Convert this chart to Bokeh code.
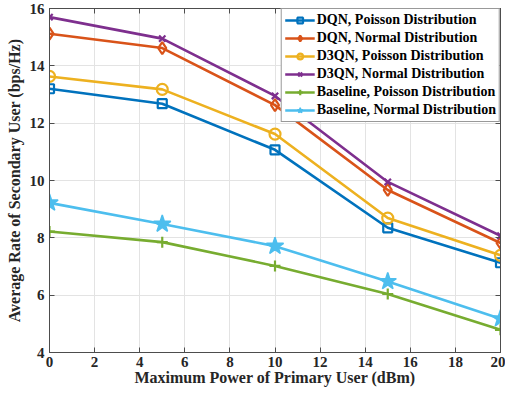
from bokeh.plotting import figure
from bokeh.models import LinearAxis, Range1d, Legend, FixedTicker
from bokeh.embed import file_html
from bokeh.resources import INLINE

x = [0, 5, 10, 15, 20]
dqn_poisson = [13.2, 12.68, 11.07, 8.35, 7.13]
dqn_normal = [15.12, 14.62, 12.63, 9.67, 7.82]
d3qn_poisson = [13.63, 13.18, 11.62, 8.69, 7.39]
d3qn_normal = [15.7, 14.95, 12.95, 9.95, 8.07]
base_poisson = [8.22, 7.85, 7.02, 6.04, 4.79]
base_normal = [9.22, 8.48, 7.71, 6.48, 5.18]

labels = ["DQN, Poisson Distribution", "DQN, Normal Distribution",
          "D3QN, Poisson Distribution", "D3QN, Normal Distribution",
          "Baseline, Poisson Distribution", "Baseline, Normal Distribution"]
colors = ["#0072BD", "#D95319", "#EDB120", "#7E2F8E", "#77AC30", "#4DBEEE"]
markers = ["square", "diamond", "circle", "x", "cross", "star"]
msizes = [9, 12, 11, 9, 11, 18]
series = [dqn_poisson, dqn_normal, d3qn_poisson, d3qn_normal, base_poisson, base_normal]
xticks = [0, 2, 4, 6, 8, 10, 12, 14, 16, 18, 20]
yticks = [4, 6, 8, 10, 12, 14, 16]

FONT = "'Liberation Serif'"
p = figure(width=505, height=388, output_backend="svg", toolbar_location=None,
           x_range=Range1d(0, 20), y_range=Range1d(4, 16),
           min_border_left=49, min_border_right=5, min_border_top=8, min_border_bottom=30)

items = []
for lab, c, m, s, ys in zip(labels, colors, markers, msizes, series):
    r1 = p.line(x, ys, line_color=c, line_width=2.6)
    if m == "star":
        r2 = p.scatter(x, ys, marker=m, size=s, fill_color=c, line_color=c, line_width=1.5)
    else:
        r2 = p.scatter(x, ys, marker=m, size=s, fill_color="white", fill_alpha=0.0,
                       line_color=c, line_width=2.2)
    items.append((lab, [r1, r2]))

legend = Legend(items=items, location="top_right")
legend.label_text_font = FONT
legend.label_text_font_style = "bold"
legend.label_text_font_size = "14px"
legend.label_text_color = "black"
legend.label_height = 14
legend.glyph_height = 14
legend.glyph_width = 30
legend.spacing = 2
legend.padding = 3
legend.margin = 0
legend.border_line_color = "#333333"
legend.border_line_width = 1
legend.background_fill_alpha = 1
legend.label_standoff = 2
p.add_layout(legend)

p.xaxis.axis_label = "Maximum Power of Primary User (dBm)"
p.yaxis.axis_label = "Average Rate of Secondary User (bps/Hz)"
p.xaxis.ticker = FixedTicker(ticks=xticks)
p.yaxis.ticker = FixedTicker(ticks=yticks)
for ax in [p.xaxis[0], p.yaxis[0]]:
    ax.axis_label_text_font = FONT
    ax.axis_label_text_font_style = "bold"
    ax.axis_label_text_font_size = "16px"
    ax.axis_label_text_color = "#262626"
    ax.major_label_text_font = FONT
    ax.major_label_text_font_style = "bold"
    ax.major_label_text_font_size = "15px"
    ax.major_label_text_color = "#262626"
    ax.axis_line_color = "#4d4d4d"
    ax.major_tick_line_color = "#4d4d4d"
    ax.major_tick_in = 5
    ax.major_tick_out = 0
    ax.minor_tick_line_color = None
p.xaxis.major_label_standoff = 4
p.xaxis.axis_label_standoff = -1
p.yaxis.major_label_standoff = 5
p.yaxis.axis_label_standoff = 4

for loc in ["above", "right"]:
    ax = LinearAxis()
    ax.ticker = FixedTicker(ticks=xticks if loc == "above" else yticks)
    ax.major_label_text_font_size = "1px"
    ax.major_label_text_color = None
    ax.major_label_standoff = 0
    ax.axis_line_color = "#4d4d4d"
    ax.major_tick_line_color = "#4d4d4d"
    ax.major_tick_in = 5
    ax.major_tick_out = 0
    ax.minor_tick_line_color = None
    p.add_layout(ax, loc)

p.xgrid.ticker = FixedTicker(ticks=xticks)
p.ygrid.ticker = FixedTicker(ticks=yticks)
p.grid.grid_line_color = "#e3e3e3"
p.grid.grid_line_width = 1
p.outline_line_color = "#4d4d4d"

open("out.html", "w").write(file_html(p, INLINE))
